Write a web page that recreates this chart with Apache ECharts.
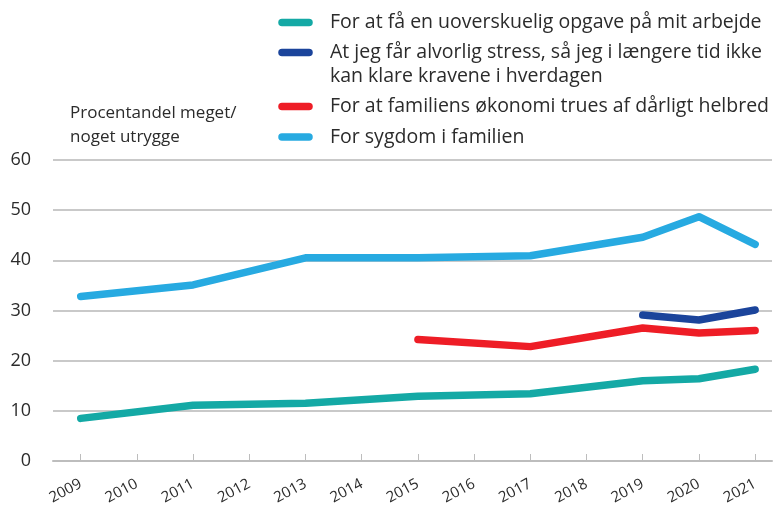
<!DOCTYPE html>
<html><head><meta charset="utf-8">
<script src="https://cdn.jsdelivr.net/npm/echarts@6/dist/echarts.min.js"></script>
<style>html,body{margin:0;padding:0;background:#fff}#c{width:778px;height:510px}</style>
</head><body><div id="c"></div>
<script>
const years = [2009, 2010, 2011, 2012, 2013, 2014, 2015, 2016, 2017, 2018, 2019, 2020, 2021];
const seriesNames = [
  'For at få en uoverskuelig opgave på mit arbejde',
  'At jeg får alvorlig stress, så jeg i længere tid ikke\nkan klare kravene i hverdagen',
  'For at familiens økonomi trues af dårligt helbred',
  'For sygdom i familien'
];
const colors = ['#14a9a5', '#1b449b', '#ee1d26', '#27aae1'];
const opgaveYears = [2009, 2011, 2013, 2015, 2017, 2019, 2020, 2021];
const opgave = [8.5, 11.1, 11.5, 12.9, 13.4, 16.0, 16.4, 18.3];
const stressYears = [2019, 2020, 2021];
const stress = [29.1, 28.1, 30.1];
const oekonomiYears = [2015, 2017, 2019, 2020, 2021];
const oekonomi = [24.2, 22.8, 26.5, 25.5, 26.0];
const sygdomYears = [2009, 2011, 2013, 2015, 2017, 2019, 2020, 2021];
const sygdom = [32.8, 35.1, 40.5, 40.5, 40.9, 44.6, 48.7, 43.2];
const yTicks = [0, 10, 20, 30, 40, 50, 60];
const yAxisTitle = 'Procentandel meget/\nnoget utrygge';

const FONT = 'Open Sans';
const pairs = (xs, vs) => xs.map((x, i) => [x, vs[i]]);
const seriesData = [
  pairs(opgaveYears, opgave),
  pairs(stressYears, stress),
  pairs(oekonomiYears, oekonomi),
  pairs(sygdomYears, sygdom)
];

const legendIconY = [22.5, 52.5, 106.5, 137];
const graphic = [];
seriesNames.forEach((n, i) => {
  graphic.push({
    type: 'line', shape: {x1: 282, y1: legendIconY[i], x2: 309, y2: legendIconY[i]},
    style: {stroke: colors[i], lineWidth: 7.5, lineCap: 'round'}
  });
  graphic.push({
    type: 'text', left: 330, top: legendIconY[i] - 12,
    style: {text: n, fill: '#2b2b2b', font: '19.5px "' + FONT + '"', lineHeight: 24}
  });
});
graphic.push({
  type: 'text', left: 70, top: 101,
  style: {text: yAxisTitle, fill: '#2b2b2b', font: '17px "' + FONT + '"', lineHeight: 24}
});

const chart = echarts.init(document.getElementById('c'), null, {renderer: 'canvas'});
chart.setOption({
  animation: false,
  textStyle: {fontFamily: FONT},
  grid: {left: 53, right: 6, top: 160, bottom: 49, containLabel: false},
  xAxis: {
    type: 'value', min: 2008.507, max: 2021.3,
    splitLine: {show: false},
    axisLine: {show: true, lineStyle: {color: '#bdbdbd', width: 2}},
    axisTick: {show: true, inside: true, length: 7, customValues: years, lineStyle: {color: '#bdbdbd', width: 1}},
    axisLabel: {customValues: years, rotate: 28, fontSize: 15, color: '#2b2b2b', margin: 22,
      formatter: v => String(v)}
  },
  yAxis: {
    type: 'value', min: 0, max: 60, interval: 10,
    axisLine: {show: false}, axisTick: {show: false},
    splitLine: {lineStyle: {color: '#c9c9c9', width: 2}},
    axisLabel: {fontSize: 18, color: '#2b2b2b', margin: 22,
      formatter: v => yTicks.includes(v) ? String(v) : ''}
  },
  graphic: graphic,
  series: seriesData.map((d, i) => ({
    type: 'line', name: seriesNames[i], data: d,
    symbol: 'none', smooth: false,
    lineStyle: {color: colors[i], width: 7.5, cap: 'round', join: 'round'},
    z: 3
  }))
});
</script></body></html>
